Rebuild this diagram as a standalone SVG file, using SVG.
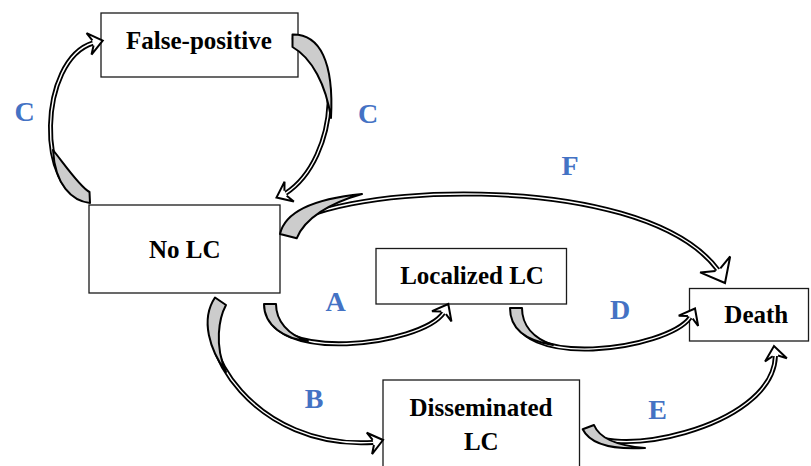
<svg xmlns="http://www.w3.org/2000/svg" xmlns:xlink="http://www.w3.org/1999/xlink" width="811" height="466" viewBox="0 0 811 466">
<style>
.box{fill:#fff;stroke:#1a1a1a;stroke-width:1.3}
.lbl{font-family:"Liberation Serif","Times New Roman",serif;font-weight:bold;font-size:25px;fill:#000;text-anchor:middle}
.ltr{font-family:"Liberation Serif","Times New Roman",serif;font-weight:bold;font-size:28px;fill:#4472C4;text-anchor:middle}
.bo{fill:none;stroke:#000;stroke-width:5}
.bi{fill:none;stroke:#fff;stroke-width:1.4}
.wd{fill:#cccccc;stroke:#000;stroke-width:2;stroke-linejoin:round}
.hd{fill:#fff;stroke:#000;stroke-width:2;stroke-linejoin:miter}
</style>
<defs>
<path id="ah" d="M-10,-2.7 L-14,-11 L0,0 L-14,11 L-10,2.7"/>
<path id="ahL" d="M-15,-2.7 L-21,-17 L0,0 L-21,17 L-15,2.7"/>
<path id="pCL" d="M89,200 C36,194 38,60 93,43"/>
<path id="pCR" d="M292,37 C345,42 340,158 285.6,193.3"/>
<path id="pF" d="M283,233 C310,185 640,165 718,270"/>
<path id="pA" d="M267,305 C267,365 420.7,345.6 443.6,312.8"/>
<path id="pD" d="M513,308 C513,372 667,350 690.3,317.3"/>
<path id="pB" d="M217,299.5 C190,345 255,450 373.3,442.4"/>
<path id="pE" d="M586,428 C600,462 773,430 775.4,356"/>
</defs>

<g id="node-false-positive">
<rect class="box" x="101" y="13" width="197" height="64"/>
<text class="lbl" x="199" y="49.3">False-positive</text>
</g>
<g id="node-no-lc">
<rect class="box" x="89" y="205" width="191" height="88"/>
<text class="lbl" x="184.7" y="258.3">No LC</text>
</g>
<g id="node-localized-lc">
<rect class="box" x="376" y="248.5" width="190.5" height="55.5"/>
<text class="lbl" x="472" y="284">Localized LC</text>
</g>
<g id="node-death">
<rect class="box" x="689.5" y="288.5" width="119" height="52.5"/>
<text class="lbl" x="756.3" y="323.3">Death</text>
</g>
<g id="node-disseminated-lc">
<rect class="box" x="383" y="380" width="196.5" height="95"/>
<text class="lbl" x="481" y="416">Disseminated</text>
<text class="lbl" x="481.3" y="450">LC</text>
</g>

<g id="connectors">
<g id="conn-C-left">
<use xlink:href="#pCL" class="bo"/><use xlink:href="#pCL" class="bi"/>
<path class="wd" d="M90,203 C72,201 55,185 53,150 C65,165 80,187 89.5,192 Z"/>
<use xlink:href="#ah" class="hd" transform="translate(102.7,40.7) rotate(-13)"/>
</g>
<g id="conn-C-right">
<use xlink:href="#pCR" class="bo"/><use xlink:href="#pCR" class="bi"/>
<path class="wd" d="M292.5,34.5 C320,34 334,62 331,118 C326,85 312,58 292.5,47 Z"/>
<use xlink:href="#ah" class="hd" transform="translate(276.5,197.5) rotate(155)"/>
</g>
<g id="conn-F">
<use xlink:href="#pF" class="bo"/><use xlink:href="#pF" class="bi"/>
<path class="wd" d="M280,234 C285,212 312,199 362,194 C330,203 305,218 296.7,238.3 Z"/>
<use xlink:href="#ahL" class="hd" transform="translate(725,283) rotate(62)"/>
</g>
<g id="conn-A">
<use xlink:href="#pA" class="bo"/><use xlink:href="#pA" class="bi"/>
<path class="wd" d="M276,304 C276,321 288,335 308,341 C285,339 264,326 264,304 Z"/>
<use xlink:href="#ah" class="hd" transform="translate(448.3,304) rotate(-62)"/>
</g>
<g id="conn-D">
<use xlink:href="#pD" class="bo"/><use xlink:href="#pD" class="bi"/>
<path class="wd" d="M522,308 C522,325 533,338 553,345 C528,341 510,330 510,308 Z"/>
<use xlink:href="#ah" class="hd" transform="translate(695,308.5) rotate(-62)"/>
</g>
<g id="conn-B">
<use xlink:href="#pB" class="bo"/><use xlink:href="#pB" class="bi"/>
<path class="wd" d="M215,297.5 L226,305 C219,318 214,345 226,372 C210,350 200,320 215,297.5 Z"/>
<use xlink:href="#ah" class="hd" transform="translate(383,440) rotate(-14)"/>
</g>
<g id="conn-E">
<use xlink:href="#pE" class="bo"/><use xlink:href="#pE" class="bi"/>
<path class="wd" d="M582.7,429.3 C590,444 610,450 645,448 C620,446 600,440 594,425 Z"/>
<use xlink:href="#ah" class="hd" transform="translate(774,346) rotate(-98)"/>
</g>
</g>

<g id="labels">
<text class="ltr" x="24.5" y="120.7">C</text>
<text class="ltr" x="368" y="123.3">C</text>
<text class="ltr" x="570" y="175.3">F</text>
<text class="ltr" x="335.5" y="311">A</text>
<text class="ltr" x="620" y="319">D</text>
<text class="ltr" x="314" y="408.3">B</text>
<text class="ltr" x="657.5" y="419">E</text>
</g>
</svg>
